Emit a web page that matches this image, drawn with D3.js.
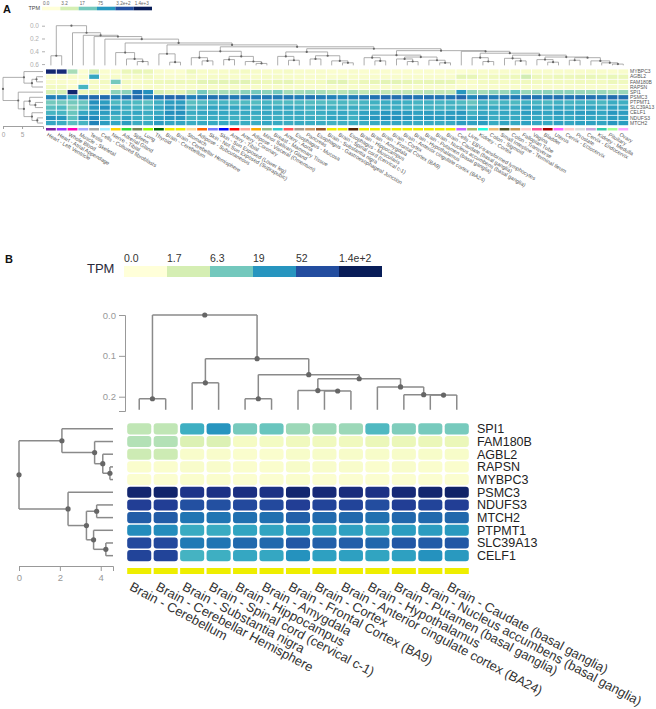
<!DOCTYPE html>
<html>
<head>
<meta charset="utf-8">
<script src="https://cdn.jsdelivr.net/npm/d3@7"></script>
<style>
  body { margin: 0; background: #fff; }
  svg { display: block; font-family: Arial, "Liberation Sans", sans-serif; }
</style>
</head>
<body>
<div id="chart"></div>
<script>
// ---------- panel A data ----------
const tissuesA = ["Heart - Left Ventricle","Heart - Atrial Appendage","Whole Blood","Muscle - Skeletal","Testis",
  "Cells - Cultured fibroblasts","Nerve - Tibial","Adrenal Gland","Spleen","Lung","Thyroid","Brain - Cerebellum",
  "Brain - Cerebellar Hemisphere","Stomach","Adipose - Subcutaneous","Skin - Not Sun Exposed (Suprapubic)",
  "Skin - Sun Exposed (Lower leg)","Artery - Tibial","Artery - Coronary","Adipose - Visceral (Omentum)",
  "Minor Salivary Gland","Breast - Mammary Tissue","Artery - Aorta","Esophagus - Mucosa","Pancreas",
  "Esophagus - Gastroesophageal Junction","Brain - Substantia nigra","Brain - Spinal cord (cervical c-1)",
  "Esophagus - Muscularis","Brain - Hippocampus","Brain - Amygdala","Brain - Frontal Cortex (BA9)","Brain - Cortex",
  "Brain - Anterior cingulate cortex (BA24)","Brain - Hypothalamus","Brain - Putamen (basal ganglia)",
  "Brain - Nucleus accumbens (basal ganglia)","Brain - Caudate (basal ganglia)","Cells - EBV-transformed lymphocytes",
  "Liver","Kidney - Cortex","Colon - Sigmoid","Small Intestine - Terminal Ileum","Colon - Transverse","Fallopian Tube",
  "Vagina","Bladder","Uterus","Cervix - Ectocervix","Prostate","Cervix - Endocervix","Kidney - Medulla","Pituitary","Ovary"];

const tissueColorsA = ["#7a1fa2","#9933ff","#ff00bb","#aaaaff","#aaaaaa","#aaeeff","#ffd700","#33dd33","#778855","#99ff00",
  "#006600","#eeee00","#eeee00","#ffdd99","#ff6600","#7777ff","#0000ff","#ff0000","#ffaa99","#ffaa00",
  "#99bb88","#33cccc","#ff5555","#aa9988","#cc9966","#995522","#eeee00","#eeee00","#552200","#eeee00",
  "#eeee00","#eeee00","#eeee00","#eeee00","#eeee00","#eeee00","#eeee00","#eeee00","#cc66ff","#aabb66",
  "#22ffdd","#eebb77","#555522","#cc9955","#ffcccc","#ff5599","#aa0000","#ff66ff","#ffcccc","#dddddd",
  "#ccaadd","#33ccaa","#aaff99","#ffaaff"];

const genesA = ["MYBPC3","AGBL2","FAM180B","RAPSN","SPI1","PSMC3","PTPMT1","SLC39A13","CELF1","NDUFS3","MTCH2"];

// TPM per tissue (same order as tissuesA)
const a_MYBPC3 = [970,840,8,0.2,3.3, 0.3,0.4,1.4,1.6,1.4, 0.4,0.3,0.3,1.1,0.5, 0.5,0.5,0.6,0.7,0.5, 0.4,0.5,0.6,0.4,0.4,
  0.4,0.3,0.3,0.4,0.3, 0.3,0.3,0.3,0.3,0.3, 0.3,0.3,0.3,0.2,0.3, 0.4,0.4,0.4,0.4,0.5, 0.4,0.4,0.4,0.4,0.4, 0.5,0.4,0.3,0.4];
const a_AGBL2 = [0.3,0.3,0.5,0.3,53, 0.4,0.5,0.6,0.6,0.8, 0.5,0.4,0.4,0.6,0.5, 0.6,0.6,0.5,0.5,0.5, 0.6,0.6,0.5,0.5,0.4,
  0.5,0.4,0.5,0.5,0.4, 0.4,0.4,0.4,0.4,0.4, 0.4,0.4,0.4,1.8,1.6, 0.8,1.0,1.1,1.2,3.5, 1.2,1.0,1.3,1.2,1.4, 1.5,1.3,1.5,1.4];
const a_FAM180B = [0.4,0.4,0.3,0.3,0.6, 0.8,17,0.8,0.6,0.8, 1.1,1.2,1.2,1.1,2.0, 2.0,2.0,2.2,2.2,1.4, 1.2,1.6,1.8,1.0,0.8,
  0.9,2.0,2.2,1.0,1.4, 1.6,2.0,2.0,1.8,1.5, 1.6,1.8,1.6,0.6,0.5, 0.8,0.8,0.7,0.8,1.0, 0.8,0.8,0.9,0.8,1.0, 0.9,0.8,1.2,1.0];
const a_RAPSN = [0.8,0.8,0.3,36,0.6, 0.4,0.5,0.5,0.4,0.5, 0.5,0.4,0.4,0.5,0.5, 0.5,0.5,0.5,0.5,0.5, 0.5,0.5,0.5,0.5,0.4,
  0.4,0.4,0.4,0.5,0.4, 0.4,0.4,0.4,0.4,0.4, 0.4,0.4,0.4,0.3,0.3, 0.4,0.4,0.4,0.4,0.5, 0.4,0.4,0.4,0.4,0.4, 0.4,0.4,0.4,0.4];
const a_SPI1 = [3.3,3.3,970,1.2,2.0, 0.8,12,12,160,90, 3.0,2.0,2.0,5,17, 8,8,8,12,17, 12,17,8,8,10,
  8,6,6,8,5, 5,5,5,5,5, 6,5,5,76,12, 8,12,10,25,10, 12,12,12,12,10, 10,10,8,10];
const a_PSMC3 = [120,115,55,160,185, 180,120,160,185,140, 160,190,185,120,135, 160,160,140,150,130, 140,135,140,125,150,
  130,120,110,130,150, 160,175,170,165,150, 160,150,155,200,110, 150,130,140,135,170, 150,150,160,150,160, 160,140,180,170];
const a_PTPMT1 = [17,17,17,20,90, 66,31,36,31,25, 42,66,66,25,28, 36,36,30,30,28, 36,30,30,31,28,
  28,30,33,28,36, 40,45,45,42,36, 40,36,38,30,20, 36,30,36,31,40, 36,33,40,36,38, 40,33,45,42];
const a_SLC39A13 = [25,31,14,25,76, 89,53,42,36,36, 53,76,76,36,45, 55,55,53,50,45, 50,48,53,45,40,
  48,40,42,45,42, 40,45,45,42,40, 40,38,40,45,36, 50,48,50,48,60, 53,50,55,50,55, 55,50,60,55];
const a_CELF1 = [36,36,20,53,76, 66,53,45,53,45, 50,89,89,45,53, 53,53,48,50,48, 53,48,48,50,40,
  45,50,53,45,60, 66,76,76,70,60, 66,60,66,76,40, 53,50,53,50,66, 60,55,66,60,66, 66,55,76,66];
const a_NDUFS3 = [89,76,25,89,103, 53,36,60,45,40, 66,76,76,40,42, 45,45,40,42,40, 48,42,45,45,45,
  40,55,53,40,66, 76,89,89,80,70, 76,70,76,70,55, 66,45,50,48,55, 50,48,55,50,60, 55,50,66,60];
const a_MTCH2 = [53,45,25,36,119, 66,53,66,45,45, 66,53,53,45,50, 50,50,45,45,45, 53,48,45,48,45,
  45,40,42,45,45, 48,53,53,50,45, 48,45,48,66,60, 66,48,55,50,60, 53,50,60,53,60, 60,55,76,66];

const legendValsA = [0, 3.2, 17, 75, 320, 1400];
const legendLabelsA = ["0.0", "3.2", "17", "75", "3.2e+2", "1.4e+3"];

// dendrograms as [height, left, right]; a number is a leaf index
const colTreeA =
[0,
  [0.47, 0, 1],
  [0.11, 2,
    [0.15, 3,
      [0.17, 4,
        [0.21, 5,
          [0.27,
            [0.42, 6, [0.52, 7, [0.56, 8, 9]]],
            [0.30,
              [0.44, 10, [0.57, 11, 12]],
              [0.33,
                [0.40, [0.50, 13, [0.55, 14, 15]], [0.48, [0.53, 16, 17], [0.56, 18, [0.59, 19, 20]]]],
                [0.36,
                  [0.41, [0.48, 21, [0.54, 22, 23]], [0.47, [0.52, 24, 25], [0.55, 26, [0.58, 27, 28]]]],
                  [0.39,
                    [0.46, [0.50, 29, [0.55, 30, 31]], [0.49, [0.52, 32, [0.56, 33, 34]], [0.54, 35, [0.58, 36, 37]]]],
                    [0.40, 38,
                      [0.43, [0.50, 39, [0.56, 40, 41]],
                        [0.46, [0.51, 42, [0.55, 43, 44]],
                          [0.49, [0.53, 45, [0.57, 46, 47]],
                            [0.50, [0.54, 48, 49], [0.55, 50, [0.58, 51, [0.60, 52, 53]]]]]]]]]]]]]]]]]];
const colLeafA = 0.62;
const rowTreeA = [0, [5.5, 0, [7.6, [8.8, 1, 2], 3]], [4, 4, [5.5, [7, 5, [8.5, 6, 7]], [7.6, 8, [9, 9, 10]]]]];
const rowLeafA = 10.5;

// ---------- panel B data ----------
const tissuesB = ["Brain - Cerebellum","Brain - Cerebellar Hemisphere","Brain - Substantia nigra",
  "Brain - Spinal cord (cervical c-1)","Brain - Hippocampus","Brain - Amygdala","Brain - Frontal Cortex (BA9)",
  "Brain - Cortex","Brain - Anterior cingulate cortex (BA24)","Brain - Hypothalamus","Brain - Putamen (basal ganglia)",
  "Brain - Nucleus accumbens (basal ganglia)","Brain - Caudate (basal ganglia)"];
const genesB = ["SPI1","FAM180B","AGBL2","RAPSN","MYBPC3","PSMC3","NDUFS3","MTCH2","PTPMT1","SLC39A13","CELF1"];

const b_SPI1 = [2.5, 2.5, 12, 19, 6, 7, 4, 4, 4, 9.5, 5.5, 6, 6];
const b_FAM180B = [3, 3, 1.4, 1.4, 0.4, 0.45, 0.6, 0.6, 0.6, 0.8, 0.8, 0.8, 0.8];
const b_AGBL2 = [2, 2, 0.25, 0.25, 0.2, 0.2, 0.3, 0.3, 0.3, 0.3, 0.3, 0.3, 0.3];
const b_RAPSN = [0.2, 0.2, 0.25, 0.25, 0.2, 0.2, 0.3, 0.25, 0.25, 0.2, 0.25, 0.2, 0.2];
const b_MYBPC3 = [0.15, 0.15, 0.2, 0.2, 0.15, 0.15, 0.2, 0.15, 0.15, 0.15, 0.15, 0.15, 0.15];
const b_PSMC3 = [110, 115, 80, 85, 88, 85, 110, 100, 95, 85, 100, 110, 118];
const b_NDUFS3 = [66, 66, 50, 50, 55, 55, 66, 60, 60, 52, 66, 60, 66];
const b_MTCH2 = [42, 42, 30, 30, 32, 32, 40, 35, 35, 32, 36, 35, 36];
const b_PTPMT1 = [22, 22, 13, 13, 15, 15, 18, 16, 16, 14, 17, 17, 18];
const b_SLC39A13 = [55, 55, 28, 30, 35, 35, 45, 40, 40, 36, 45, 42, 45];
const b_CELF1 = [60, 60, 11, 12, 14, 14, 20, 16, 16, 15, 16, 20, 18];

const legendValsB = [0, 1.7, 6.3, 19, 52, 140];
const legendLabelsB = ["0.0", "1.7", "6.3", "19", "52", "1.4e+2"];

const colTreeB =
[0,
  [0.205, 0, 1],
  [0.107,
    [0.166, 2, 3],
    [0.146,
      [0.205, 4, 5],
      [0.156,
        [0.185, 6, [0.186, 7, 8]],
        [0.176, 9, [0.195, 10, [0.196, 11, 12]]]]]]];
const colLeafB = 0.232;
const rowTreeB = [0, [2.1, 0, [3.7, 1, [4.1, 2, [4.45, 3, 4]]]], [2.4, 5, [3.3, [3.8, 6, 7], [3.65, 8, [4.25, 9, 10]]]]];
const rowLeafB = 4.6;

const valuesA = [a_MYBPC3, a_AGBL2, a_FAM180B, a_RAPSN, a_SPI1, a_PSMC3, a_PTPMT1, a_SLC39A13, a_CELF1, a_NDUFS3, a_MTCH2];
const valuesB = [b_SPI1, b_FAM180B, b_AGBL2, b_RAPSN, b_MYBPC3, b_PSMC3, b_NDUFS3, b_MTCH2, b_PTPMT1, b_SLC39A13, b_CELF1];

// ---------- drawing ----------
const svg = d3.select("#chart").append("svg")
  .attr("width", 656).attr("height", 709);
svg.append("rect").attr("width", 656).attr("height", 709).attr("fill", "#fff");

// draws an elbow dendrogram; vertical=true means heights go down the page
function drawDendro(g, tree, posOf, hScale, leafH, vertical, st) {
  const root = d3.hierarchy(tree, d => Array.isArray(d) ? d.slice(1) : null);
  root.eachAfter(n => {
    if (n.children) { n.p = d3.mean(n.children, c => c.p); n.h = n.data[0]; }
    else { n.p = posOf(n.data); n.h = leafH; }
  });
  const pt = vertical ? (p, h) => [p, hScale(h)] : (p, h) => [hScale(h), p];
  const segs = [];
  root.each(n => {
    if (!n.children) return;
    const ps = n.children.map(c => c.p);
    segs.push([pt(d3.min(ps), n.h), pt(d3.max(ps), n.h)]);
    n.children.forEach(c => segs.push([pt(c.p, n.h), pt(c.p, c.h)]));
  });
  g.selectAll("line.seg").data(segs).join("line")
    .attr("class", "seg")
    .attr("x1", d => d[0][0]).attr("y1", d => d[0][1])
    .attr("x2", d => d[1][0]).attr("y2", d => d[1][1])
    .attr("stroke", st.stroke).attr("stroke-width", st.width);
  g.selectAll("circle").data(root.descendants().filter(n => n.children)).join("circle")
    .attr("cx", d => pt(d.p, d.h)[0]).attr("cy", d => pt(d.p, d.h)[1])
    .attr("r", st.r).attr("fill", st.dot);
}

function styleAxis(g, size, color) {
  g.selectAll("text").attr("font-size", size).attr("fill", color).attr("font-family", "Arial, 'Liberation Sans', sans-serif");
  g.selectAll("line, path").attr("stroke", color);
}

// ===== Panel A =====
const colorA = d3.scaleSequentialSymlog(d3.interpolateYlGnBu).domain([0, 1400]);
const xA = d3.scaleBand().domain(d3.range(tissuesA.length)).range([45.5, 628.7]);
const yA = d3.scaleBand().domain(genesA).range([69, 125.6]);
const gA = svg.append("g");

gA.append("text").attr("x", 3).attr("y", 13).text("A")
  .attr("font-size", 11).attr("font-weight", "bold").attr("fill", "#111");

// legend A
const legA = d3.scaleBand().domain(d3.range(legendValsA.length)).range([42, 152]);
gA.append("text").attr("x", 40).attr("y", 9.5).attr("text-anchor", "end")
  .attr("font-size", 5.5).attr("fill", "#444").text("TPM");
gA.selectAll("rect.legA").data(legendValsA).join("rect").attr("class", "legA")
  .attr("x", (d, i) => legA(i)).attr("y", 6.7).attr("width", legA.bandwidth()).attr("height", 3.6)
  .attr("fill", d => colorA(d));
gA.selectAll("text.legA").data(legendLabelsA).join("text").attr("class", "legA")
  .attr("x", (d, i) => legA(i) + 1).attr("y", 4.6).attr("font-size", 4.6).attr("fill", "#666").text(d => d);

// column dendrogram A
const hColA = d3.scaleLinear().domain([0, 0.63]).range([25.7, 66]);
drawDendro(gA.append("g"), colTreeA, i => xA(i) + xA.bandwidth() / 2, hColA, colLeafA, true,
  { stroke: "#999", width: 0.8, r: 1.1, dot: "#666" });
const axColA = gA.append("g").attr("transform", "translate(45,0)")
  .call(d3.axisLeft(hColA).tickValues([0, 0.2, 0.4, 0.6]).tickFormat(d3.format(".1f")).tickSize(3));
styleAxis(axColA, 6.5, "#b0b0b0");
axColA.select(".domain").attr("stroke", "none");

// row dendrogram A
const hRowA = d3.scaleLinear().domain([0, rowLeafA]).range([3, 43]);
drawDendro(gA.append("g"), rowTreeA, i => yA(genesA[i]) + yA.bandwidth() / 2, hRowA, rowLeafA, false,
  { stroke: "#999", width: 0.8, r: 1.1, dot: "#666" });
const axRowA = gA.append("g").attr("transform", "translate(0,126)")
  .call(d3.axisBottom(hRowA).tickValues([0, 5]).tickFormat(d3.format("d")).tickSize(3));
styleAxis(axRowA, 6.5, "#a0a0a0");

// heatmap A
const cellsA = [];
valuesA.forEach((row, r) => row.forEach((v, c) => cellsA.push({ gene: genesA[r], c, v })));
gA.selectAll("rect.cellA").data(cellsA).join("rect").attr("class", "cellA")
  .attr("x", d => xA(d.c) + 0.5).attr("y", d => yA(d.gene) + 0.4)
  .attr("width", xA.bandwidth() - 1).attr("height", yA.bandwidth() - 0.8)
  .attr("fill", d => colorA(d.v));

gA.selectAll("text.rowA").data(genesA).join("text").attr("class", "rowA")
  .attr("x", 630).attr("y", d => yA(d) + yA.bandwidth() / 2).attr("dy", "0.35em")
  .attr("font-size", 5).attr("fill", "#555").text(d => d);

gA.selectAll("rect.stripA").data(tissueColorsA).join("rect").attr("class", "stripA")
  .attr("x", (d, i) => xA(i) + 0.5).attr("y", 128).attr("width", xA.bandwidth() - 1).attr("height", 2.5)
  .attr("fill", d => d);

gA.selectAll("text.colA").data(tissuesA).join("text").attr("class", "colA")
  .attr("transform", (d, i) => `translate(${xA(i) + xA.bandwidth() / 2 - 2.5},132.5) rotate(30)`)
  .attr("dy", "0.7em").attr("font-size", 5.4).attr("fill", "#555").text(d => d);

// ===== Panel B =====
const colorB = d3.scaleSequentialSymlog(d3.interpolateYlGnBu).domain([0, 140]);
const xB = d3.scaleBand().domain(d3.range(tissuesB.length)).range([126, 470]);
const yB = d3.scaleBand().domain(genesB).range([422.5, 562]);
const gB = svg.append("g");

gB.append("text").attr("x", 5).attr("y", 263).text("B")
  .attr("font-size", 11).attr("font-weight", "bold").attr("fill", "#111");

// legend B
const legB = d3.scaleBand().domain(d3.range(legendValsB.length)).range([124, 382]);
gB.append("text").attr("x", 87).attr("y", 273).attr("font-size", 13).attr("fill", "#2a2a3a").text("TPM");
gB.selectAll("rect.legB").data(legendValsB).join("rect").attr("class", "legB")
  .attr("x", (d, i) => legB(i)).attr("y", 266).attr("width", legB.bandwidth()).attr("height", 11)
  .attr("fill", d => colorB(d));
gB.selectAll("text.legB").data(legendLabelsB).join("text").attr("class", "legB")
  .attr("x", (d, i) => legB(i)).attr("y", 262).attr("font-size", 10.5).attr("fill", "#333").text(d => d);

// column dendrogram B
const hColB = d3.scaleLinear().domain([0, 0.235]).range([315, 411]);
drawDendro(gB.append("g"), colTreeB, i => xB(i) + xB.bandwidth() / 2, hColB, colLeafB, true,
  { stroke: "#8a8a8a", width: 1.5, r: 2.6, dot: "#666" });
const axColB = gB.append("g").attr("transform", "translate(125,0)")
  .call(d3.axisLeft(hColB).tickValues([0, 0.1, 0.2]).tickFormat(d3.format(".1f")).tickSize(6));
styleAxis(axColB, 9.5, "#999");

// row dendrogram B
const hRowB = d3.scaleLinear().domain([0, rowLeafB]).range([19, 113]);
drawDendro(gB.append("g"), rowTreeB, i => yB(genesB[i]) + yB.bandwidth() / 2, hRowB, rowLeafB, false,
  { stroke: "#8a8a8a", width: 1.5, r: 2.6, dot: "#666" });
const axRowB = gB.append("g").attr("transform", "translate(0,566)")
  .call(d3.axisBottom(hRowB).tickValues([0, 2, 4]).tickFormat(d3.format("d")).tickSize(5));
styleAxis(axRowB, 9.5, "#999");

// heatmap B
const cellsB = [];
valuesB.forEach((row, r) => row.forEach((v, c) => cellsB.push({ gene: genesB[r], c, v })));
gB.selectAll("rect.cellB").data(cellsB).join("rect").attr("class", "cellB")
  .attr("x", d => xB(d.c) + 1.2).attr("y", d => yB(d.gene) + 0.8)
  .attr("width", xB.bandwidth() - 2.4).attr("height", yB.bandwidth() - 1.6)
  .attr("rx", 3).attr("fill", d => colorB(d.v));

gB.selectAll("text.rowB").data(genesB).join("text").attr("class", "rowB")
  .attr("x", 477).attr("y", d => yB(d) + yB.bandwidth() / 2).attr("dy", "0.36em")
  .attr("font-size", 12.5).attr("fill", "#222").text(d => d);

gB.selectAll("rect.stripB").data(tissuesB).join("rect").attr("class", "stripB")
  .attr("x", (d, i) => xB(i) + 1.2).attr("y", 568).attr("width", xB.bandwidth() - 2.4).attr("height", 6)
  .attr("fill", "#eeee00");

gB.selectAll("text.colB").data(tissuesB).join("text").attr("class", "colB")
  .attr("transform", (d, i) => `translate(${xB(i) + xB.bandwidth() / 2 - 6},581) rotate(28)`)
  .attr("dy", "0.75em").attr("font-size", 13).attr("fill", "#333").text(d => d);
</script>
</body>
</html>
